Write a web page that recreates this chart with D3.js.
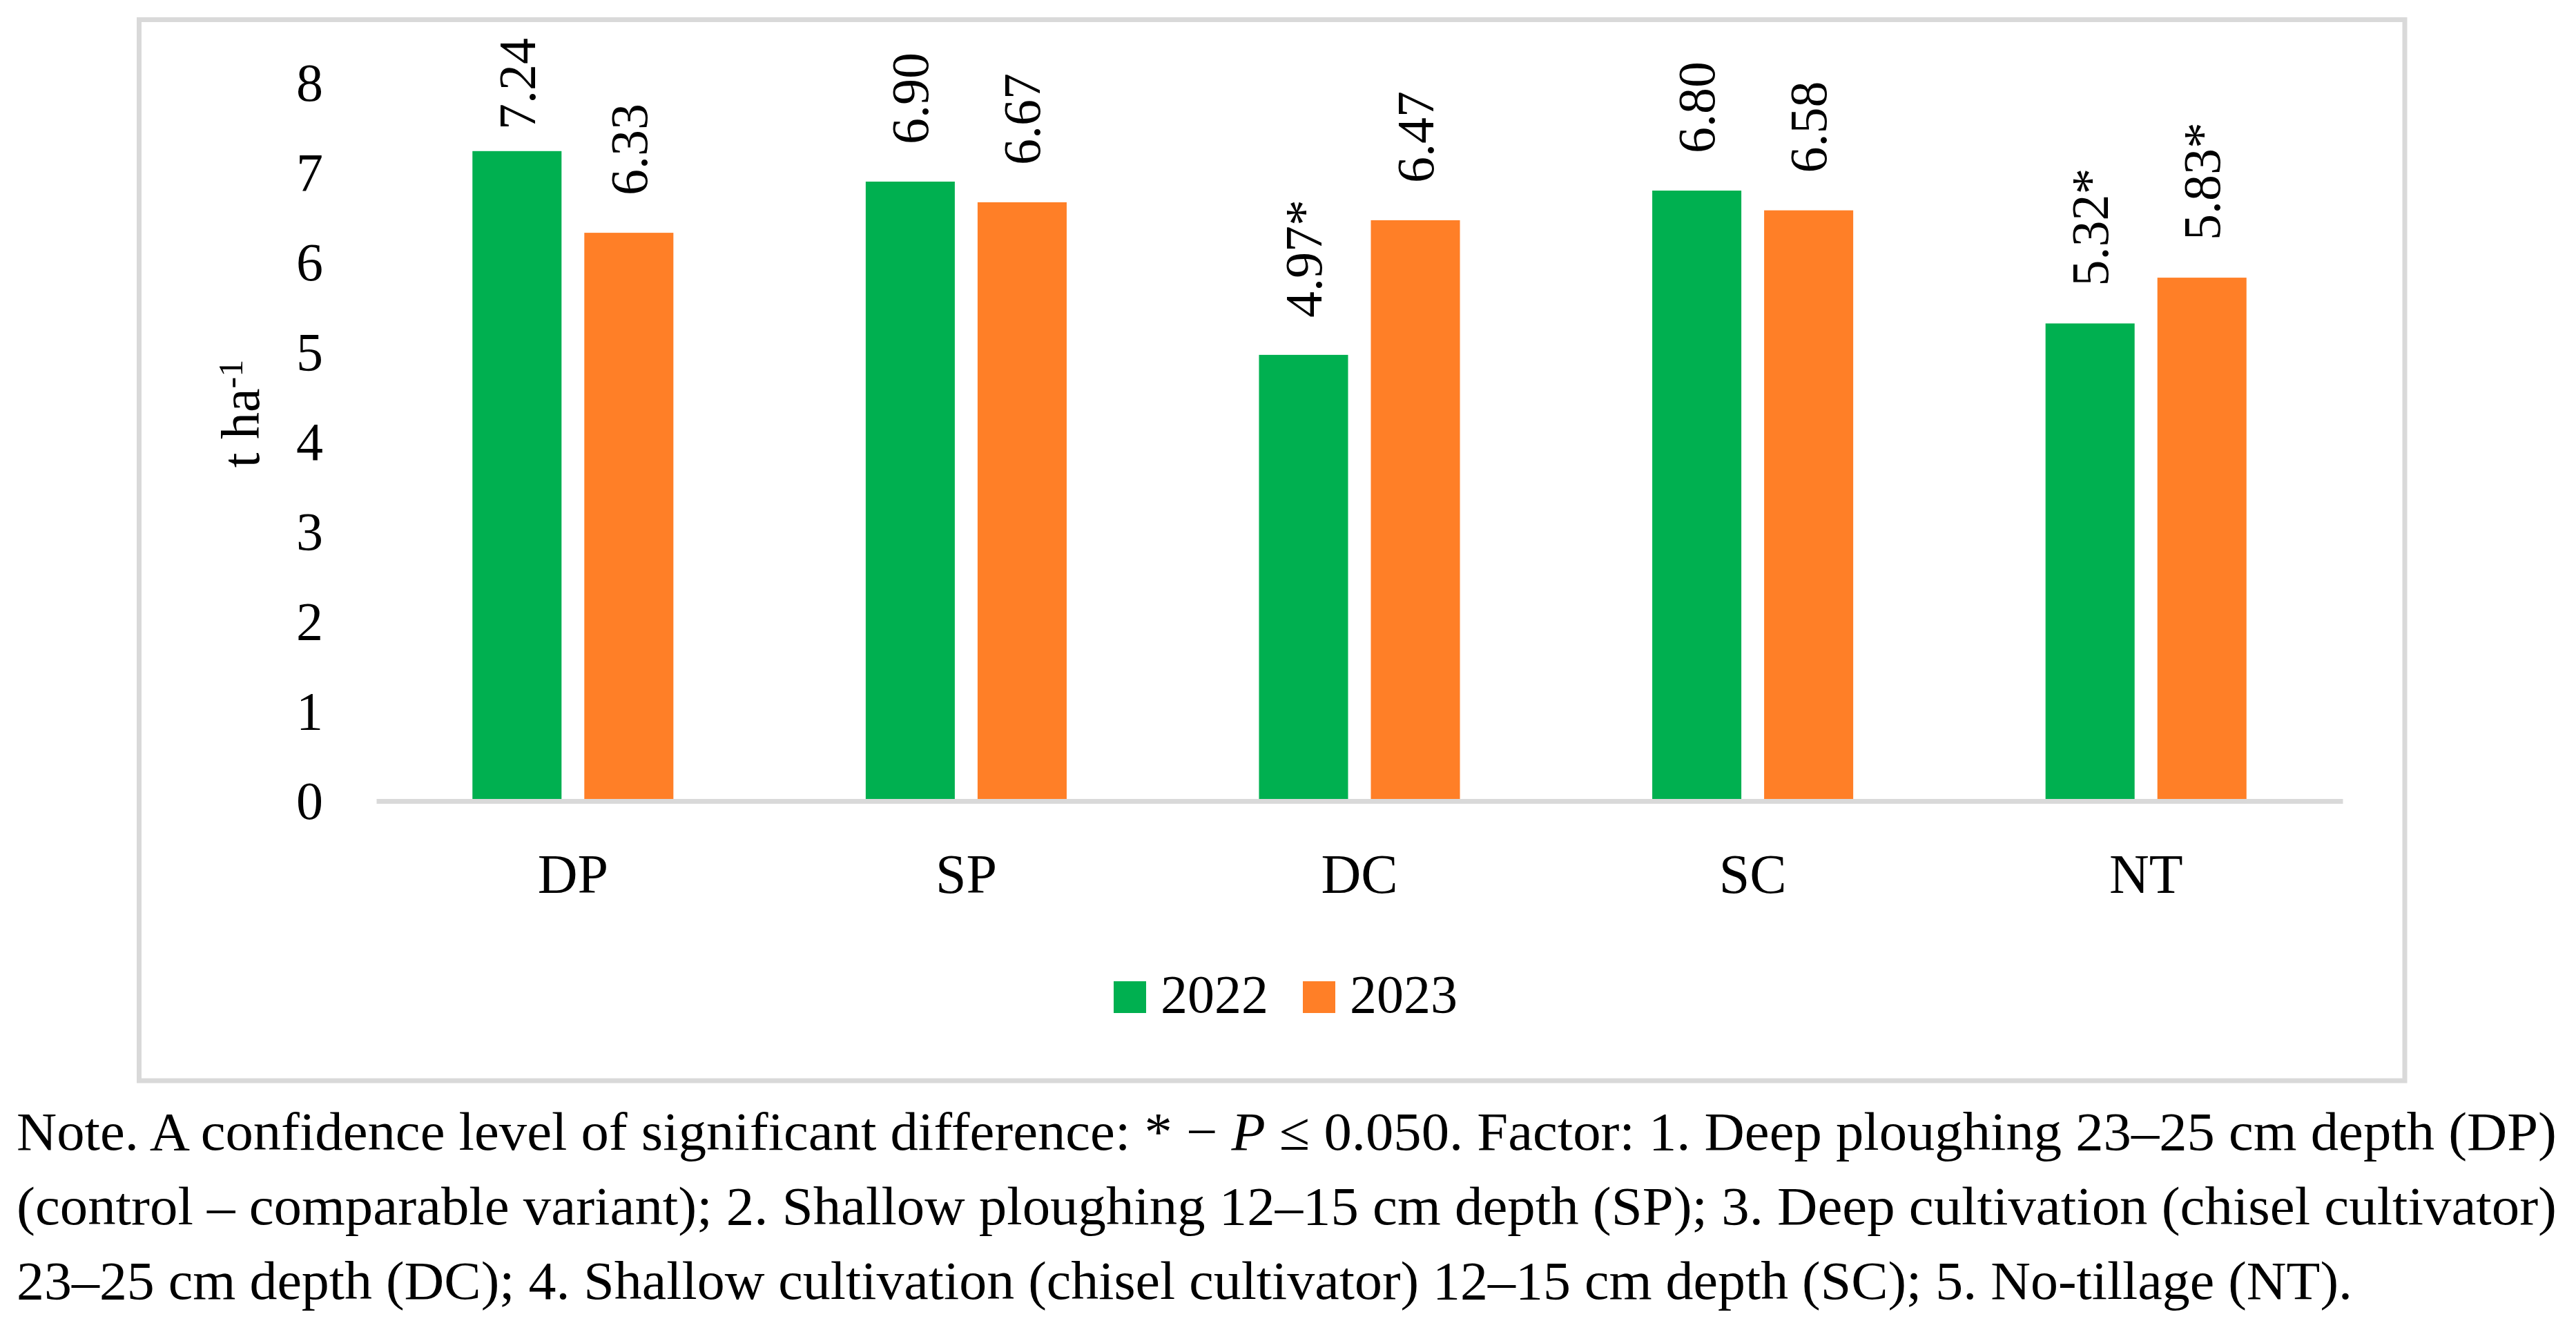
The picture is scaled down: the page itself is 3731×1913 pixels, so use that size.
<!DOCTYPE html>
<html>
<head>
<meta charset="utf-8">
<script src="https://cdn.jsdelivr.net/npm/d3@7"></script>
<style>
  body { margin: 0; background: #fff; }
  text { font-family: "Liberation Serif", "Times New Roman", serif; fill: #000; }
</style>
</head>
<body>
<div id="chart"></div>
<script>
const width = 3731;
const height = 1913;

// Chart data
const categories = ["DP", "SP", "DC", "SC", "NT"];
const series = ["2022", "2023"];
const values2022 = [7.24, 6.90, 4.97, 6.80, 5.32];
const values2023 = [6.33, 6.67, 6.47, 6.58, 5.83];
const labels2022 = ["7.24", "6.90", "4.97*", "6.80", "5.32*"];
const labels2023 = ["6.33", "6.67", "6.47", "6.58", "5.83*"];
const yTicks = [0, 1, 2, 3, 4, 5, 6, 7, 8];
const colors = ["#00B050", "#FF7F27"];

const noteLines = [
  ["Note. A confidence level of significant difference: * \u2212 ", "P", " \u2264 0.050. Factor: 1. Deep ploughing 23\u201325 cm depth (DP)"],
  ["(control \u2013 comparable variant); 2. Shallow ploughing 12\u201315 cm depth (SP); 3. Deep cultivation (chisel cultivator)"],
  ["23\u201325 cm depth (DC); 4. Shallow cultivation (chisel cultivator) 12\u201315 cm depth (SC); 5. No-tillage (NT)."]
];

const svg = d3.select("#chart")
  .append("svg")
  .attr("width", width)
  .attr("height", height);

svg.append("rect")
  .attr("width", width)
  .attr("height", height)
  .attr("fill", "#fff");

// Chart frame
svg.append("rect")
  .attr("x", 201.5)
  .attr("y", 28.5)
  .attr("width", 3483 - 201.5)
  .attr("height", 1565 - 28.5)
  .attr("fill", "#fff")
  .attr("stroke", "#d9d9d9")
  .attr("stroke-width", 7);

// Scales
const x0 = d3.scaleBand()
  .domain(categories)
  .range([545, 3393]);

const groupWidth = x0.bandwidth() * 0.511;

const x1 = d3.scaleBand()
  .domain(series)
  .range([0, groupWidth])
  .paddingInner(0.2037);

const y = d3.scaleLinear()
  .domain([0, 8])
  .range([1160, 120]);

// Y axis labels
const yAxis = svg.append("g")
  .attr("transform", "translate(468,0)")
  .call(d3.axisLeft(y).tickValues(yTicks).tickSize(0).tickPadding(0).tickFormat(d3.format("d")));
yAxis.select(".domain").remove();
yAxis.selectAll("text")
  .attr("font-size", 78)
  .attr("font-family", "Liberation Serif, serif")
  .attr("dy", "0.33em");

// Bars
const rows = categories.map((c, i) => ({
  cat: c,
  items: [
    { key: series[0], value: values2022[i], label: labels2022[i] },
    { key: series[1], value: values2023[i], label: labels2023[i] }
  ]
}));

const groups = svg.selectAll(".group")
  .data(rows)
  .enter()
  .append("g")
  .attr("class", "group")
  .attr("transform", d => `translate(${x0(d.cat) + (x0.bandwidth() - groupWidth) / 2},0)`);

groups.selectAll("rect")
  .data(d => d.items)
  .enter()
  .append("rect")
  .attr("x", d => x1(d.key))
  .attr("y", d => y(d.value))
  .attr("width", x1.bandwidth())
  .attr("height", d => y(0) - y(d.value))
  .attr("fill", (d, i) => colors[i]);

// Rotated value labels
groups.selectAll(".val")
  .data(d => d.items)
  .enter()
  .append("text")
  .attr("class", "val")
  .attr("font-size", 76)
  .attr("dy", "0.34em")
  .text(d => d.label)
  .each(function(d) {
    const len = this.getComputedTextLength();
    let start = y(d.value) - 54;
    if (start - len < 55) start = 55 + len;
    d3.select(this)
      .attr("transform", `translate(${x1(d.key) + x1.bandwidth() / 2},${start}) rotate(-90)`);
  });

// X axis
const xAxis = svg.append("g")
  .attr("transform", `translate(0,${y(0)})`)
  .call(d3.axisBottom(x0).tickSize(0).tickSizeOuter(0));
xAxis.select(".domain")
  .attr("stroke", "#d9d9d9")
  .attr("stroke-width", 7);
xAxis.selectAll("text")
  .attr("font-size", 80)
  .attr("font-family", "Liberation Serif, serif")
  .attr("y", 133)
  .attr("dy", 0);

// Y axis title
const yTitle = svg.append("text")
  .attr("transform", "translate(375,599) rotate(-90)")
  .attr("text-anchor", "middle")
  .attr("font-size", 78);
yTitle.append("tspan").text("t ha");
yTitle.append("tspan").attr("font-size", 50).attr("dy", -24).text("-1");

// Legend
const legend = svg.selectAll(".legend")
  .data(series)
  .enter()
  .append("g")
  .attr("class", "legend")
  .attr("transform", (d, i) => `translate(${1613 + i * 274},1421)`);

legend.append("rect")
  .attr("width", 47)
  .attr("height", 46)
  .attr("fill", (d, i) => colors[i]);

legend.append("text")
  .attr("x", 68)
  .attr("y", 45)
  .attr("font-size", 78)
  .text(d => d);

// Note below the chart
const noteWidths = [3679, 3679, 3383];
noteLines.forEach((parts, i) => {
  const t = svg.append("text")
    .attr("x", 24)
    .attr("y", 1665 + i * 108)
    .attr("font-size", 78)
    .attr("textLength", noteWidths[i])
    .attr("lengthAdjust", "spacingAndGlyphs");
  parts.forEach(p => {
    t.append("tspan")
      .attr("font-style", p === "P" ? "italic" : null)
      .text(p);
  });
});
</script>
</body>
</html>
